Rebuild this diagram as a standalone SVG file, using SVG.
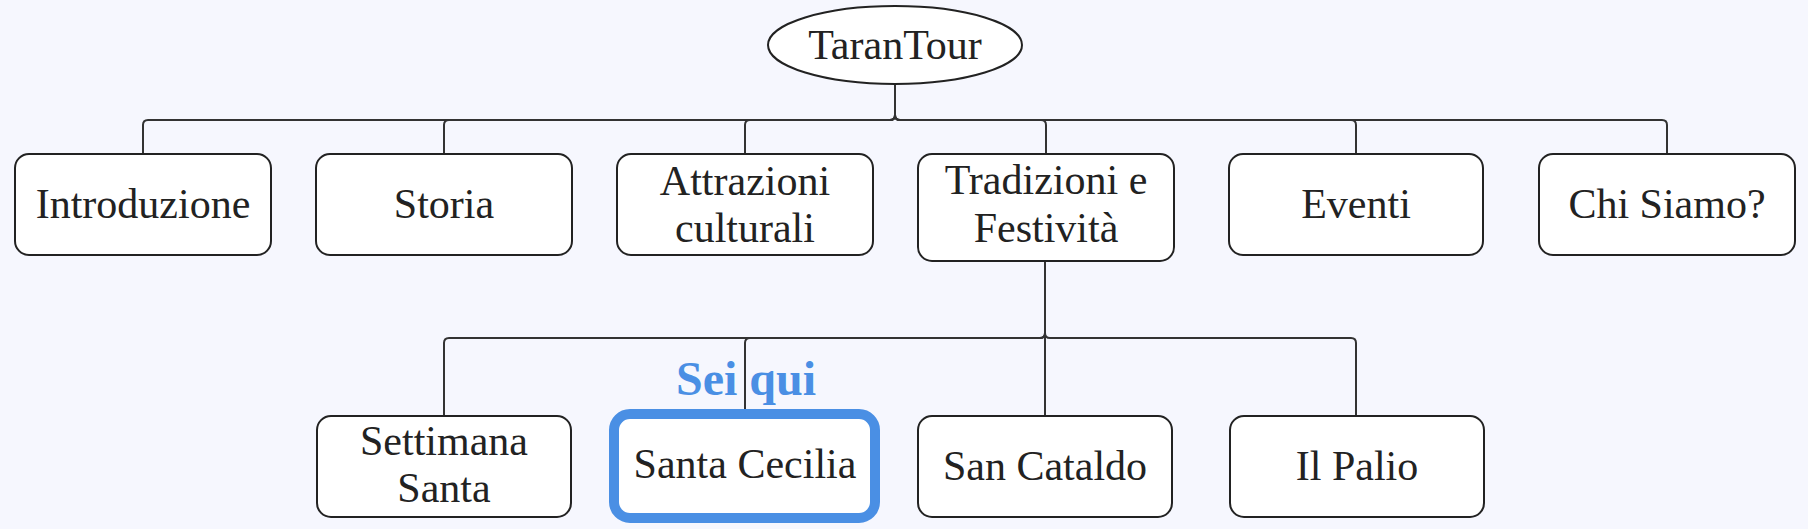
<svg xmlns="http://www.w3.org/2000/svg" width="1808" height="529" viewBox="0 0 1808 529">
<style>
.bg{fill:#f6f7fe}
.n{fill:#ffffff;stroke:#222;stroke-width:2}
.t{font-family:"Liberation Serif","Times New Roman",serif;font-size:42px;fill:#222;text-anchor:middle}
.c{fill:none;stroke:#333;stroke-width:2}
.hl{fill:#ffffff;stroke:#4a8fe4;stroke-width:10}
.lbl{font-family:"Liberation Serif","Times New Roman",serif;font-size:48px;font-weight:bold;fill:#4a8fe4;text-anchor:middle}
</style>
<rect class="bg" x="0" y="0" width="1808" height="529"/>
<g id="connectors">
<path class="c" d="M895,85 V115 Q895,120 890,120 H148 Q143,120 143,125 V154"/>
<path class="c" d="M895,85 V115 Q895,120 890,120 H449 Q444,120 444,125 V154"/>
<path class="c" d="M895,85 V115 Q895,120 890,120 H750 Q745,120 745,125 V154"/>
<path class="c" d="M895,85 V115 Q895,120 900,120 H1041 Q1046,120 1046,125 V154"/>
<path class="c" d="M895,85 V115 Q895,120 900,120 H1351 Q1356,120 1356,125 V154"/>
<path class="c" d="M895,85 V115 Q895,120 900,120 H1662 Q1667,120 1667,125 V154"/>
<path class="c" d="M1045,261 V333 Q1045,338 1040,338 H449 Q444,338 444,343 V416"/>
<path class="c" d="M1045,261 V333 Q1045,338 1040,338 H750 Q745,338 745,343 V409"/>
<path class="c" d="M1045,261 V416"/>
<path class="c" d="M1045,261 V333 Q1045,338 1050,338 H1351 Q1356,338 1356,343 V416"/>
</g>
<g id="root">
<ellipse class="n" cx="895" cy="45" rx="127" ry="39"/>
<text class="t" x="895" y="59">TaranTour</text>
</g>
<g id="introduzione">
<rect class="n" x="15" y="154" width="256" height="101" rx="14"/>
<text class="t" x="143" y="218">Introduzione</text>
</g>
<g id="storia">
<rect class="n" x="316" y="154" width="256" height="101" rx="14"/>
<text class="t" x="444" y="218">Storia</text>
</g>
<g id="attrazioni">
<rect class="n" x="617" y="154" width="256" height="101" rx="14"/>
<text class="t" x="745" y="195">Attrazioni</text>
<text class="t" x="745" y="242">culturali</text>
</g>
<g id="tradizioni">
<rect class="n" x="918" y="154" width="256" height="107" rx="14"/>
<text class="t" x="1046" y="194">Tradizioni e</text>
<text class="t" x="1046" y="242">Festività</text>
</g>
<g id="eventi">
<rect class="n" x="1229" y="154" width="254" height="101" rx="14"/>
<text class="t" x="1356" y="218">Eventi</text>
</g>
<g id="chisiamo">
<rect class="n" x="1539" y="154" width="256" height="101" rx="14"/>
<text class="t" x="1667" y="218">Chi Siamo?</text>
</g>
<g id="settimana">
<rect class="n" x="317" y="416" width="254" height="101" rx="14"/>
<text class="t" x="444" y="455">Settimana</text>
<text class="t" x="444" y="502">Santa</text>
</g>
<g id="santacecilia">
<rect class="hl" x="614" y="414" width="261" height="104" rx="16"/>
<text class="t" x="745" y="478">Santa Cecilia</text>
</g>
<g id="seiqui">
<text class="lbl" x="746" y="395">Sei qui</text>
</g>
<g id="sancataldo">
<rect class="n" x="918" y="416" width="254" height="101" rx="14"/>
<text class="t" x="1045" y="480">San Cataldo</text>
</g>
<g id="ilpalio">
<rect class="n" x="1230" y="416" width="254" height="101" rx="14"/>
<text class="t" x="1357" y="480">Il Palio</text>
</g>
</svg>
